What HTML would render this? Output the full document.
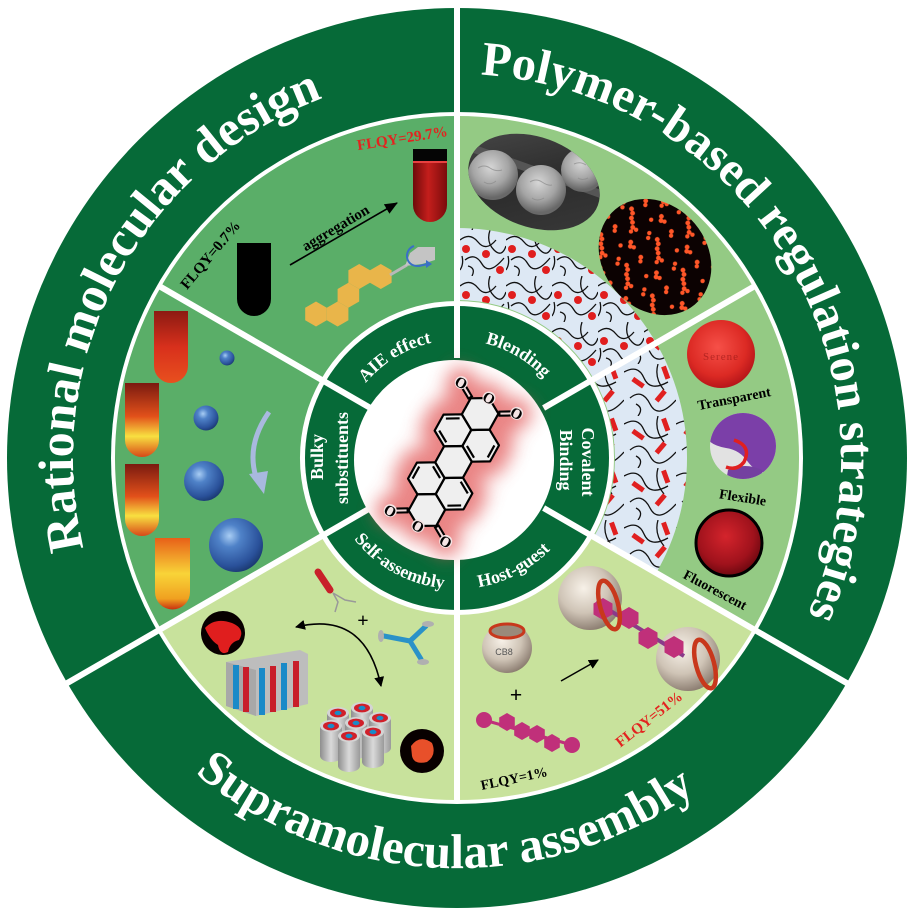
<!DOCTYPE html>
<html><head><meta charset="utf-8"><style>
html,body{margin:0;padding:0;background:#fff;}
svg{display:block;}
text{font-family:"Liberation Serif","Times New Roman",serif;font-weight:bold;}
</style></head><body>
<svg width="915" height="916" viewBox="0 0 915 916" xmlns="http://www.w3.org/2000/svg">
<defs>
<filter id="blur" x="-60%" y="-60%" width="220%" height="220%"><feGaussianBlur stdDeviation="9"/></filter>
<radialGradient id="blue" cx="0.38" cy="0.33" r="0.7"><stop offset="0" stop-color="#a8cdf4"/><stop offset="0.3" stop-color="#4f82c8"/><stop offset="0.8" stop-color="#2a519a"/><stop offset="1" stop-color="#1b3a72"/></radialGradient>
<radialGradient id="ball" cx="0.4" cy="0.35" r="0.7"><stop offset="0" stop-color="#f7f1e8"/><stop offset="0.55" stop-color="#cfc4b6"/><stop offset="1" stop-color="#85766a"/></radialGradient>
<radialGradient id="sem" cx="0.45" cy="0.35" r="0.6"><stop offset="0" stop-color="#d6d6d6"/><stop offset="0.6" stop-color="#a4a4a4"/><stop offset="1" stop-color="#686868"/></radialGradient>
<linearGradient id="semBg" x1="0" y1="0" x2="1" y2="1"><stop offset="0" stop-color="#4a4a4a"/><stop offset="0.5" stop-color="#2c2c2c"/><stop offset="1" stop-color="#3a3a3a"/></linearGradient>
<radialGradient id="film" cx="0.45" cy="0.4" r="0.6"><stop offset="0" stop-color="#f65048"/><stop offset="0.7" stop-color="#dc2a24"/><stop offset="1" stop-color="#b8161a"/></radialGradient>
<radialGradient id="dred" cx="0.45" cy="0.4" r="0.6"><stop offset="0" stop-color="#d4242c"/><stop offset="0.7" stop-color="#a0121c"/><stop offset="1" stop-color="#6e0810"/></radialGradient>
<linearGradient id="redtube" x1="0" x2="1" y1="0" y2="0"><stop offset="0" stop-color="#6e0a0a"/><stop offset="0.45" stop-color="#c41e1c"/><stop offset="1" stop-color="#7a0c0c"/></linearGradient>
<linearGradient id="tubeA" x1="0" x2="0" y1="0" y2="1"><stop offset="0" stop-color="#8c1a12"/><stop offset="0.5" stop-color="#d8301c"/><stop offset="1" stop-color="#e8501e"/></linearGradient>
<linearGradient id="tubeB" x1="0" x2="0" y1="0" y2="1"><stop offset="0" stop-color="#7a1a10"/><stop offset="0.45" stop-color="#e2501a"/><stop offset="0.72" stop-color="#f8e040"/><stop offset="1" stop-color="#d84818"/></linearGradient>
<linearGradient id="tubeC" x1="0" x2="0" y1="0" y2="1"><stop offset="0" stop-color="#e86018"/><stop offset="0.5" stop-color="#f8d438"/><stop offset="0.85" stop-color="#f0a020"/><stop offset="1" stop-color="#c83010"/></linearGradient>
<linearGradient id="cyl" x1="0" x2="1" y1="0" y2="0"><stop offset="0" stop-color="#8e8e8e"/><stop offset="0.5" stop-color="#dadada"/><stop offset="1" stop-color="#9a9a9a"/></linearGradient>
<pattern id="chain" width="46" height="46" patternUnits="userSpaceOnUse">
<rect width="46" height="46" fill="#dde8f4"/>
<path d="M0,10 Q10,2 18,12 T36,10 M5,30 Q15,22 22,34 T44,28 M30,0 Q26,12 34,20 T46,16 M12,46 Q16,38 8,36 M0,40 Q4,34 2,26" stroke="#111" stroke-width="1.3" fill="none"/>
<circle cx="26" cy="24" r="4" fill="#e01e1e"/><circle cx="6" cy="19" r="4" fill="#e01e1e"/><circle cx="40" cy="40" r="4" fill="#e01e1e"/>
</pattern>
<pattern id="rods" width="52" height="52" patternUnits="userSpaceOnUse">
<rect width="52" height="52" fill="#dde8f4"/>
<path d="M0,8 Q14,0 20,14 T44,18 M6,34 Q18,24 26,40 T52,36 M34,0 Q30,14 40,26 M14,52 Q20,44 12,40" stroke="#111" stroke-width="1.3" fill="none"/>
<rect x="8" y="16" width="13" height="5" fill="#e02020" transform="rotate(35 14 18)"/>
<rect x="30" y="30" width="13" height="5" fill="#e02020" transform="rotate(-50 36 32)"/>
<rect x="36" y="6" width="13" height="5" fill="#e02020" transform="rotate(70 42 8)"/>
</pattern>
<pattern id="fluo" width="40" height="40" patternUnits="userSpaceOnUse">
<rect width="40" height="40" fill="#0c0202"/>
<g fill="#ff5628"><circle cx="3" cy="4" r="2.4"/><circle cx="7" cy="6" r="2.4"/><circle cx="10" cy="10" r="2.4"/><circle cx="14" cy="12" r="2.4"/><circle cx="18" cy="15" r="2.4"/><circle cx="22" cy="14" r="2.2"/><circle cx="20" cy="19" r="2.2"/><circle cx="28" cy="26" r="2.4"/><circle cx="31" cy="29" r="2.4"/><circle cx="34" cy="27" r="2.2"/><circle cx="6" cy="28" r="2.4"/><circle cx="9" cy="31" r="2.2"/><circle cx="33" cy="6" r="2.2"/><circle cx="36" cy="10" r="2.2"/><circle cx="24" cy="36" r="2.2"/></g>
</pattern>
<polygon id="hexP" points="0,-12.5 10.8,-6.25 10.8,6.25 0,12.5 -10.8,6.25 -10.8,-6.25"/>
<polygon id="hexS" points="0,-9 7.8,-4.5 7.8,4.5 0,9 -7.8,4.5 -7.8,-4.5"/>
<polygon id="hexM" points="0,-11 9.5,-5.5 9.5,5.5 0,11 -9.5,5.5 -9.5,-5.5"/>
<marker id="ah" markerWidth="10" markerHeight="10" refX="9" refY="5" orient="auto-start-reverse" markerUnits="userSpaceOnUse"><path d="M0,0 L10,5 L0,10 Z" fill="#000"/></marker>
<marker id="ah2" markerWidth="13" markerHeight="11" refX="12" refY="5.5" orient="auto" markerUnits="userSpaceOnUse"><path d="M0,0 L13,5.5 L0,11 Z" fill="#000"/></marker>
<clipPath id="semclip"><ellipse cx="534" cy="182" rx="68" ry="45" transform="rotate(20 534 182)"/></clipPath>
<clipPath id="gloveclip"><circle cx="743" cy="446" r="33"/></clipPath>
<path id="pR" d="M124.4,650 A384,384 0 0 1 457,74"/>
<path id="pP" d="M457,74 A384,384 0 0 1 789.6,650"/>
<path id="pS" d="M102.7,662.5 A408,408 0 0 0 811.3,662.5"/>
<path id="pA" d="M354.8,399 A118,118 0 0 1 457,340"/>
<path id="pB" d="M457,340 A118,118 0 0 1 559.2,399"/>
<path id="pSA" d="M343.6,523.5 A131,131 0 0 0 457,589"/>
<path id="pH" d="M457,589 A131,131 0 0 0 570.4,523.5"/>
</defs>

<rect width="915" height="916" fill="#fff"/>
<circle cx="457" cy="458" r="450" fill="#066a38"/>
<circle cx="457" cy="458" r="346" fill="#fff"/>

<!-- sectors -->
<path d="M457,116 A342,342 0 0 0 160.8,287 L321,379.5 A157,157 0 0 1 457,301 Z" fill="#5aae68"/>
<path d="M160.8,287 A342,342 0 0 0 160.8,629 L321,536.5 A157,157 0 0 1 321,379.5 Z" fill="#5aae68"/>
<path d="M160.8,629 A342,342 0 0 0 457,800 L457,615 A157,157 0 0 1 321,536.5 Z" fill="#c8e29c"/>
<path d="M457,800 A342,342 0 0 0 753.2,629 L593,536.5 A157,157 0 0 1 457,615 Z" fill="#c8e29c"/>
<path d="M753.2,629 A342,342 0 0 0 753.2,287 L593,379.5 A157,157 0 0 1 593,536.5 Z" fill="#94ca84"/>
<path d="M753.2,287 A342,342 0 0 0 457,116 L457,301 A157,157 0 0 1 593,379.5 Z" fill="#94ca84"/>

<!-- polymer network annulus -->
<path d="M457,228 A230,230 0 0 1 656.2,343 L593.8,379 A158,158 0 0 0 457,300 Z" fill="url(#chain)"/>
<path d="M656.2,343 A230,230 0 0 1 656.2,573 L593.8,537 A158,158 0 0 0 593.8,379 Z" fill="url(#rods)"/>

<circle cx="457" cy="458" r="152" fill="#066a38"/>
<circle cx="454" cy="460" r="100" fill="#fff"/>

<!-- ===== AIE segment ===== -->
<text x="0" y="0" font-size="15" fill="#e3231f" text-anchor="middle" transform="translate(403,143) rotate(-9)">FLQY=29.7%</text>
<path d="M413,149 H447 V205 A17,17 0 0 1 413,205 Z" fill="url(#redtube)"/>
<rect x="413" y="149" width="34" height="13" fill="#050505"/>
<rect x="413" y="161" width="34" height="2" fill="#e84040"/>
<path d="M237,243 H271 V299 A17,17 0 0 1 237,299 Z" fill="#000"/>
<text font-size="15" fill="#000" text-anchor="middle" transform="translate(214,258) rotate(-50)">FLQY=0.7%</text>
<line x1="290" y1="265" x2="397" y2="203" stroke="#000" stroke-width="1.6" marker-end="url(#ah2)"/>
<text font-size="15" fill="#000" text-anchor="middle" transform="translate(338,232) rotate(-31)">aggregation</text>
<g fill="#e9b54a">
<use href="#hexP" x="316" y="314"/><use href="#hexP" x="337.6" y="314"/><use href="#hexP" x="348.4" y="295.3"/><use href="#hexP" x="359.2" y="276.5"/><use href="#hexP" x="380.8" y="276.5"/>
</g>
<line x1="390" y1="275" x2="407" y2="265" stroke="#b8b8b8" stroke-width="3"/>
<polygon points="405,266 410,253 418,247 435,247 435,260 422,264" fill="#c4c4c4"/>
<path d="M414,246 C403,250 405,267 419,266 L428,264" stroke="#3a6fc6" stroke-width="2" fill="none"/>
<path d="M426,260 L432,264 L426,268 Z" fill="#3a6fc6"/>

<!-- ===== Bulky segment ===== -->
<path d="M154,311 H188 V366 A17,17 0 0 1 154,366 Z" fill="url(#tubeA)"/>
<path d="M125,383 H159 V440 A17,17 0 0 1 125,440 Z" fill="url(#tubeB)"/>
<path d="M125,464 H159 V519 A17,17 0 0 1 125,519 Z" fill="url(#tubeB)"/>
<path d="M155,538 H190 V592 A17.5,17.5 0 0 1 155,592 Z" fill="url(#tubeC)"/>
<circle cx="227" cy="358" r="7.5" fill="url(#blue)"/>
<circle cx="206" cy="418" r="12.5" fill="url(#blue)"/>
<circle cx="204" cy="481" r="20" fill="url(#blue)"/>
<circle cx="236" cy="545" r="27" fill="url(#blue)"/>
<path d="M269,412 Q246,445 256,477" stroke="#a9b9df" stroke-width="5" fill="none"/>
<polygon points="249,474 268,471 264,494" fill="#a9b9df"/>

<!-- ===== Self-assembly segment ===== -->
<line x1="318" y1="572" x2="330" y2="590" stroke="#c8202a" stroke-width="7" stroke-linecap="round"/>
<path d="M333,593 L338,602 L335,612 M333,593 L345,600 L356,602" stroke="#999" stroke-width="1.5" fill="none"/>
<text x="363" y="627" font-size="20" fill="#000" text-anchor="middle">+</text>
<path d="M410,641 L384,636 M410,641 L426,626 M410,641 L421,659" stroke="#2a92c8" stroke-width="5" stroke-linecap="round" fill="none"/>
<ellipse cx="381" cy="636" rx="3" ry="6" fill="#b0b0b0"/><ellipse cx="428" cy="624" rx="6" ry="3" fill="#b0b0b0"/><ellipse cx="423" cy="662" rx="6" ry="3" fill="#b0b0b0"/>
<path d="M296,627 Q365,610 381,686" stroke="#000" stroke-width="1.6" fill="none" marker-start="url(#ah)" marker-end="url(#ah)"/>
<circle cx="223" cy="633" r="22" fill="#080000"/>
<path d="M205,628 Q215,617 232,623 Q246,629 239,640 Q230,642 228,652 Q220,656 218,645 Q210,640 205,628 Z" fill="#e01e1e"/>
<polygon points="226,662 300,650 308,654 308,704 256,716 226,706" fill="#bdbdbd"/>
<polygon points="226,662 256,670 256,716 226,706" fill="#a8a8a8"/>
<g stroke-width="6">
<line x1="262" y1="668" x2="262" y2="715" stroke="#1a8ac8"/>
<line x1="273" y1="666" x2="273" y2="712" stroke="#c81e2a"/>
<line x1="284" y1="663" x2="284" y2="710" stroke="#1a8ac8"/>
<line x1="296" y1="661" x2="296" y2="707" stroke="#c81e2a"/>
<line x1="236" y1="665" x2="236" y2="709" stroke="#1a8ac8"/>
<line x1="246" y1="667" x2="246" y2="712" stroke="#c81e2a"/>
</g>
<g>
<g transform="translate(362,708)"><rect x="-11" y="0" width="22" height="30" fill="url(#cyl)"/><ellipse cy="30" rx="11" ry="6" fill="url(#cyl)"/><ellipse rx="11" ry="6" fill="#d4d4d4"/><ellipse rx="8" ry="4.4" fill="#d0202a"/><ellipse rx="3.5" ry="2.2" fill="#1a8ac8"/></g>
<g transform="translate(338,713)"><rect x="-11" y="0" width="22" height="30" fill="url(#cyl)"/><ellipse cy="30" rx="11" ry="6" fill="url(#cyl)"/><ellipse rx="11" ry="6" fill="#d4d4d4"/><ellipse rx="8" ry="4.4" fill="#d0202a"/><ellipse rx="3.5" ry="2.2" fill="#1a8ac8"/></g>
<g transform="translate(380,718)"><rect x="-11" y="0" width="22" height="30" fill="url(#cyl)"/><ellipse cy="30" rx="11" ry="6" fill="url(#cyl)"/><ellipse rx="11" ry="6" fill="#d4d4d4"/><ellipse rx="8" ry="4.4" fill="#d0202a"/><ellipse rx="3.5" ry="2.2" fill="#1a8ac8"/></g>
<g transform="translate(356,723)"><rect x="-11" y="0" width="22" height="30" fill="url(#cyl)"/><ellipse cy="30" rx="11" ry="6" fill="url(#cyl)"/><ellipse rx="11" ry="6" fill="#d4d4d4"/><ellipse rx="8" ry="4.4" fill="#d0202a"/><ellipse rx="3.5" ry="2.2" fill="#1a8ac8"/></g>
<g transform="translate(331,726)"><rect x="-11" y="0" width="22" height="30" fill="url(#cyl)"/><ellipse cy="30" rx="11" ry="6" fill="url(#cyl)"/><ellipse rx="11" ry="6" fill="#d4d4d4"/><ellipse rx="8" ry="4.4" fill="#d0202a"/><ellipse rx="3.5" ry="2.2" fill="#1a8ac8"/></g>
<g transform="translate(373,732)"><rect x="-11" y="0" width="22" height="30" fill="url(#cyl)"/><ellipse cy="30" rx="11" ry="6" fill="url(#cyl)"/><ellipse rx="11" ry="6" fill="#d4d4d4"/><ellipse rx="8" ry="4.4" fill="#d0202a"/><ellipse rx="3.5" ry="2.2" fill="#1a8ac8"/></g>
<g transform="translate(349,736)"><rect x="-11" y="0" width="22" height="30" fill="url(#cyl)"/><ellipse cy="30" rx="11" ry="6" fill="url(#cyl)"/><ellipse rx="11" ry="6" fill="#d4d4d4"/><ellipse rx="8" ry="4.4" fill="#d0202a"/><ellipse rx="3.5" ry="2.2" fill="#1a8ac8"/></g>
</g>
<circle cx="422" cy="751" r="22" fill="#080000"/>
<path d="M411,746 Q420,734 432,743 Q437,755 427,762 Q414,765 412,756 Z" fill="#e8502a"/>

<!-- ===== Host-guest segment ===== -->
<circle cx="507" cy="648" r="25" fill="url(#ball)"/>
<ellipse cx="507" cy="631" rx="17" ry="7" fill="#9a8a7a" stroke="#c8381c" stroke-width="3"/>
<text x="504" y="655" font-size="9" fill="#555" text-anchor="middle" style="font-family:'Liberation Sans',sans-serif;font-weight:normal">CB8</text>
<text x="516" y="702" font-size="22" fill="#000" text-anchor="middle">+</text>
<line x1="484" y1="720" x2="572" y2="745" stroke="#c0307a" stroke-width="3"/>
<g fill="#c0307a"><circle cx="484" cy="720" r="8"/><circle cx="572" cy="745" r="8"/>
<use href="#hexS" x="507" y="722"/><use href="#hexS" x="522" y="731"/><use href="#hexS" x="537" y="734"/><use href="#hexS" x="552" y="743"/></g>
<text font-size="14" fill="#000" text-anchor="middle" transform="translate(515,783) rotate(-12)">FLQY=1%</text>
<line x1="561" y1="681" x2="598" y2="660" stroke="#000" stroke-width="1.5" marker-end="url(#ah)"/>
<circle cx="590" cy="598" r="32" fill="url(#ball)"/>
<circle cx="688" cy="659" r="32" fill="url(#ball)"/>
<line x1="596" y1="602" x2="684" y2="656" stroke="#8a3a8a" stroke-width="4"/>
<g fill="#c0307a"><use href="#hexM" x="603" y="609"/><use href="#hexM" x="629" y="618"/><use href="#hexM" x="648" y="638"/><use href="#hexM" x="674" y="647"/></g>
<ellipse cx="609" cy="605" rx="9" ry="25" transform="rotate(-15 609 605)" fill="none" stroke="#c8381c" stroke-width="4.5"/>
<ellipse cx="705" cy="664" rx="9" ry="25" transform="rotate(-15 705 664)" fill="none" stroke="#c8381c" stroke-width="4.5"/>
<text font-size="15" fill="#e3231f" text-anchor="middle" transform="translate(652,723) rotate(-38)">FLQY=51%</text>

<!-- ===== Blending segment ===== -->
<ellipse cx="534" cy="182" rx="68" ry="45" transform="rotate(20 534 182)" fill="url(#semBg)"/>
<g clip-path="url(#semclip)">
<path d="M466,146 L612,198" stroke="#555" stroke-width="8"/>
<circle cx="493" cy="175" r="25" fill="url(#sem)"/>
<circle cx="541" cy="190" r="25" fill="url(#sem)"/>
<circle cx="583" cy="170" r="22" fill="url(#sem)"/>
<g stroke="#8a8a8a" stroke-width="1" fill="none" opacity="0.7">
<path d="M478,168 q6,-4 12,0 t12,2 M484,182 q6,4 12,-1 M530,182 q6,-4 12,0 t10,3 M532,198 q5,4 12,0 M574,164 q6,-3 12,1 M578,178 q4,3 10,0"/>
</g>
</g>
<ellipse cx="655" cy="257" rx="62" ry="52" transform="rotate(50 655 257)" fill="url(#fluo)"/>

<!-- ===== Covalent segment ===== -->
<circle cx="721" cy="354" r="34" fill="url(#film)"/>
<text x="721" y="360" font-size="11" fill="#8a1010" opacity="0.55" text-anchor="middle" style="font-weight:normal;letter-spacing:1px">Serene</text>
<text font-size="14" fill="#000" text-anchor="middle" transform="translate(735,403) rotate(-11)">Transparent</text>
<g clip-path="url(#gloveclip)">
<rect x="708" y="411" width="72" height="72" fill="#e2e2e2"/>
<path d="M708,411 L780,411 L780,470 Q760,478 748,462 Q740,450 726,448 Q714,446 708,440 Z" fill="#7b3fa8"/>
<path d="M728,470 Q745,462 762,470 L764,482 L726,482 Z" fill="#7440a0"/>
<path d="M734,440 Q752,446 744,462 Q737,471 726,467" stroke="#e02020" stroke-width="3.5" fill="none"/>
</g>
<text font-size="14" fill="#000" text-anchor="middle" transform="translate(742,502) rotate(9)">Flexible</text>
<circle cx="729" cy="543" r="33" fill="url(#dred)" stroke="#000" stroke-width="3"/>
<text font-size="14" fill="#000" text-anchor="middle" transform="translate(713,594) rotate(28)">Fluorescent</text>

<!-- ===== dividers ===== -->
<g stroke="#fff" stroke-width="6">
<line x1="457" y1="358" x2="457" y2="4"/>
<line x1="370.4" y1="508" x2="63" y2="685.5"/>
<line x1="543.6" y1="508" x2="851" y2="685.5"/>
<line x1="543.6" y1="408" x2="754.9" y2="286"/>
<line x1="370.4" y1="408" x2="159.1" y2="286"/>
<line x1="457" y1="558" x2="457" y2="802"/>
</g>

<!-- ===== outer titles ===== -->
<text font-size="50" fill="#fff"><textPath href="#pR" startOffset="48.3%" text-anchor="middle">Rational molecular design</textPath></text>
<text font-size="48.5" fill="#fff"><textPath href="#pP" startOffset="49%" text-anchor="middle">Polymer-based regulation strategies</textPath></text>
<text font-size="49" fill="#fff"><textPath href="#pS" startOffset="48.3%" text-anchor="middle">Supramolecular assembly</textPath></text>

<!-- ===== inner ring labels ===== -->
<text font-size="18" fill="#fff"><textPath href="#pA" startOffset="47.5%" text-anchor="middle">AIE effect</textPath></text>
<text font-size="18" fill="#fff"><textPath href="#pB" startOffset="51%" text-anchor="middle">Blending</textPath></text>
<text font-size="18" fill="#fff"><textPath href="#pSA" startOffset="52%" text-anchor="middle">Self-assembly</textPath></text>
<text font-size="18" fill="#fff"><textPath href="#pH" startOffset="46%" text-anchor="middle">Host-guest</textPath></text>
<text font-size="18" fill="#fff" text-anchor="middle" transform="translate(323,457) rotate(-90)">Bulky</text>
<text font-size="18" fill="#fff" text-anchor="middle" transform="translate(348,458) rotate(-90)">substituents</text>
<text font-size="18" fill="#fff" text-anchor="middle" transform="translate(582,462) rotate(90)">Covalent</text>
<text font-size="18" fill="#fff" text-anchor="middle" transform="translate(560,460) rotate(90)">Binding</text>

<!-- ===== central molecule ===== -->
<g transform="translate(453.5,462) rotate(29)">
<g filter="url(#blur)" opacity="0.72">
<g fill="#e25656" stroke="#e25656" stroke-width="30" stroke-linejoin="round">
<polygon points="0,-18.3 15.85,-9.15 15.85,9.15 0,18.3 -15.85,9.15 -15.85,-9.15"/>
<polygon points="-15.85,-45.75 0,-36.6 0,-18.3 -15.85,-9.15 -31.7,-18.3 -31.7,-36.6"/>
<polygon points="15.85,-45.75 31.7,-36.6 31.7,-18.3 15.85,-9.15 0,-18.3 0,-36.6"/>
<polygon points="-15.85,9.15 0,18.3 0,36.6 -15.85,45.75 -31.7,36.6 -31.7,18.3"/>
<polygon points="15.85,9.15 31.7,18.3 31.7,36.6 15.85,45.75 0,36.6 0,18.3"/>
<polygon points="0,-73.2 15.85,-64.05 31.7,-73.2 15.85,-45.75 0,-36.6 -15.85,-45.75 -31.7,-73.2 -15.85,-64.05"/>
<polygon points="0,73.2 15.85,64.05 31.7,73.2 15.85,45.75 0,36.6 -15.85,45.75 -31.7,73.2 -15.85,64.05"/>
</g>
</g>
<g fill="#efefef">
<polygon points="0,-18.3 15.85,-9.15 15.85,9.15 0,18.3 -15.85,9.15 -15.85,-9.15"/>
<polygon points="-15.85,-45.75 0,-36.6 0,-18.3 -15.85,-9.15 -31.7,-18.3 -31.7,-36.6"/>
<polygon points="15.85,-45.75 31.7,-36.6 31.7,-18.3 15.85,-9.15 0,-18.3 0,-36.6"/>
<polygon points="-15.85,9.15 0,18.3 0,36.6 -15.85,45.75 -31.7,36.6 -31.7,18.3"/>
<polygon points="15.85,9.15 31.7,18.3 31.7,36.6 15.85,45.75 0,36.6 0,18.3"/>
<polygon points="0,-73.2 15.85,-64.05 15.85,-45.75 0,-36.6 -15.85,-45.75 -15.85,-64.05"/>
<polygon points="0,73.2 15.85,64.05 15.85,45.75 0,36.6 -15.85,45.75 -15.85,64.05"/>
</g>
<g fill="none" stroke="#000" stroke-width="2.2" stroke-linejoin="round">
<polygon points="0,-18.3 15.85,-9.15 15.85,9.15 0,18.3 -15.85,9.15 -15.85,-9.15"/>
<polygon points="-15.85,-45.75 0,-36.6 0,-18.3 -15.85,-9.15 -31.7,-18.3 -31.7,-36.6"/>
<polygon points="15.85,-45.75 31.7,-36.6 31.7,-18.3 15.85,-9.15 0,-18.3 0,-36.6"/>
<polygon points="-15.85,9.15 0,18.3 0,36.6 -15.85,45.75 -31.7,36.6 -31.7,18.3"/>
<polygon points="15.85,9.15 31.7,18.3 31.7,36.6 15.85,45.75 0,36.6 0,18.3"/>
<polygon points="0,-73.2 15.85,-64.05 15.85,-45.75 0,-36.6 -15.85,-45.75 -15.85,-64.05"/>
<polygon points="0,73.2 15.85,64.05 15.85,45.75 0,36.6 -15.85,45.75 -15.85,64.05"/>
<line x1="-15.85" y1="-41.18" x2="-27.74" y2="-34.31"/>
<line x1="-27.74" y1="-20.59" x2="-15.85" y2="-13.73"/>
<line x1="27.74" y1="-34.31" x2="27.74" y2="-20.59"/>
<line x1="3.96" y1="-20.59" x2="15.85" y2="-13.73"/>
<line x1="15.85" y1="41.18" x2="27.74" y2="34.31"/>
<line x1="27.74" y1="20.59" x2="15.85" y2="13.73"/>
<line x1="-27.74" y1="34.31" x2="-27.74" y2="20.59"/>
<line x1="-3.96" y1="20.59" x2="-15.85" y2="13.73"/>
</g>
<g stroke="#000" stroke-width="6.2">
<line x1="15.85" y1="-64.05" x2="26.5" y2="-70.2"/>
<line x1="-15.85" y1="-64.05" x2="-26.5" y2="-70.2"/>
<line x1="15.85" y1="64.05" x2="26.5" y2="70.2"/>
<line x1="-15.85" y1="64.05" x2="-26.5" y2="70.2"/>
</g>
<g stroke="#f3d6d6" stroke-width="2">
<line x1="17.6" y1="-65.05" x2="27" y2="-70.5"/>
<line x1="-17.6" y1="-65.05" x2="-27" y2="-70.5"/>
<line x1="17.6" y1="65.05" x2="27" y2="70.5"/>
<line x1="-17.6" y1="65.05" x2="-27" y2="70.5"/>
</g>
<g fill="#f4e4e4">
<circle cx="0" cy="-73.2" r="6.5"/><circle cx="31.7" cy="-73.2" r="6.5"/><circle cx="-31.7" cy="-73.2" r="6.5"/>
<circle cx="0" cy="73.2" r="6.5"/><circle cx="31.7" cy="73.2" r="6.5"/><circle cx="-31.7" cy="73.2" r="6.5"/>
</g>
<g font-size="15" fill="#000" text-anchor="middle" style="font-family:'Liberation Sans',sans-serif;font-weight:normal">
<text x="0" y="-67.9">O</text><text x="31.7" y="-67.9">O</text><text x="-31.7" y="-67.9">O</text>
<text x="0" y="78.5">O</text><text x="31.7" y="78.5">O</text><text x="-31.7" y="78.5">O</text>
</g>
</g>
</svg>
</body></html>
